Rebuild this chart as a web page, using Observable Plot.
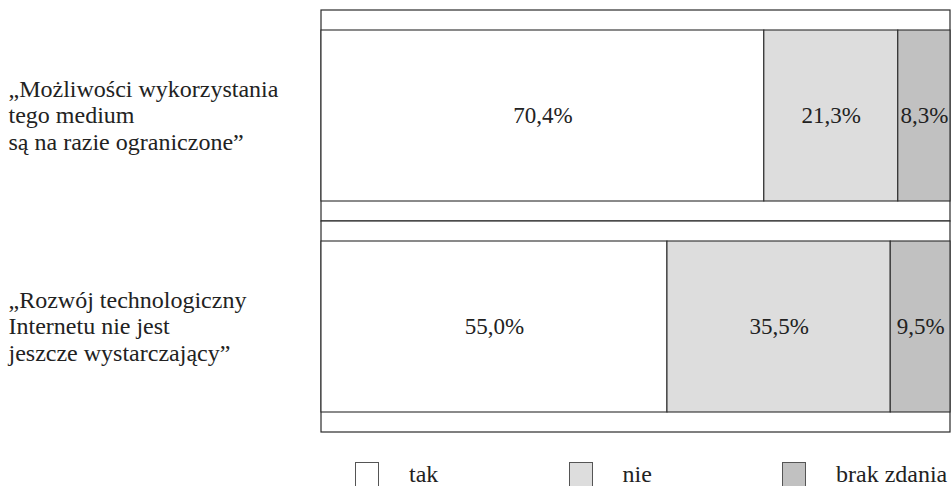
<!DOCTYPE html>
<html lang="pl">
<head>
<meta charset="utf-8">
<script src="https://cdn.jsdelivr.net/npm/d3@7"></script>
<script src="https://cdn.jsdelivr.net/npm/@observablehq/plot@0.6"></script>
<style>
  html, body { margin: 0; padding: 0; background: #fff; overflow: hidden; }
  #chart svg { display: block; }
  .legend {
    display: flex;
    padding: 12px 0 0 355px;
    font-family: "Liberation Serif", "DejaVu Serif", "Times New Roman", serif;
    font-size: 24px;
    color: #222;
    white-space: nowrap;
  }
  .legend .item { flex: none; width: 213.5px; display: flex; align-items: flex-start; }
  .legend .sw { width: 24px; height: 30px; border: 1px solid #555; box-sizing: border-box; flex: none; }
  .legend .lbl { margin-left: 30px; line-height: 24px; margin-top: 0; }
</style>
</head>
<body>
<div id="chart"></div>
<script>
// Survey statements (multi-line labels) and the answer categories
const questions = [
  "„Możliwości wykorzystania\ntego medium\nsą na razie ograniczone”",
  "„Rozwój technologiczny\nInternetu nie jest\njeszcze wystarczający”"
];
const answers = ["tak", "nie", "brak zdania"];
const colors = ["#ffffff", "#dddddd", "#c1c1c1"];

// Share of answers per statement, in %
const tak = [70.4, 55.0];
const nie = [21.3, 35.5];
const brakZdania = [8.3, 9.5];

const series = [tak, nie, brakZdania];
const data = [];
questions.forEach((q, i) => {
  answers.forEach((a, j) => data.push({question: q, answer: a, value: series[j][i]}));
});

const fmt = v => v.toFixed(1).replace(".", ",") + "%";
const ink = "#2b2b2b";
const serif = "'Liberation Serif', 'DejaVu Serif', 'Times New Roman', serif";

const chart = Plot.plot({
  width: 951,
  height: 450,
  marginTop: 10,
  marginBottom: 18,
  marginLeft: 321,
  marginRight: 1,
  style: {fontFamily: serif, color: ink, background: "#fff"},
  x: {domain: [0, 100], axis: null},
  y: {domain: questions, padding: 0, axis: null},
  color: {domain: answers, range: colors},
  marks: [
    // one framed row per statement
    Plot.barX(questions, {x1: 0, x2: 100, y: d => d, fill: "#fff", stroke: ink, strokeWidth: 1.2}),
    // stacked answer shares
    Plot.barX(data, {
      x: "value", y: "question", fill: "answer",
      stroke: ink, strokeWidth: 1.1, insetTop: 20, insetBottom: 20
    }),
    Plot.text(data, Plot.stackX({
      x: "value", y: "question", text: d => fmt(d.value),
      fontSize: 23, fill: "#222", fontFamily: serif
    })),
    // statement labels on the left
    Plot.text(questions, {
      x: 0, y: d => d, text: d => d, textAnchor: "start", dx: -313, dy: -1,
      fontSize: 24, lineHeight: 1.1, fill: "#222", fontFamily: serif
    })
  ]
});

const root = document.getElementById("chart");
root.appendChild(chart);

// legend below the plot
const legend = document.createElement("div");
legend.className = "legend";
answers.forEach((a, j) => {
  const item = document.createElement("div");
  item.className = "item";
  const sw = document.createElement("div");
  sw.className = "sw";
  sw.style.background = colors[j];
  const lbl = document.createElement("span");
  lbl.className = "lbl";
  lbl.textContent = a;
  item.append(sw, lbl);
  legend.appendChild(item);
});
root.appendChild(legend);
</script>
</body>
</html>
